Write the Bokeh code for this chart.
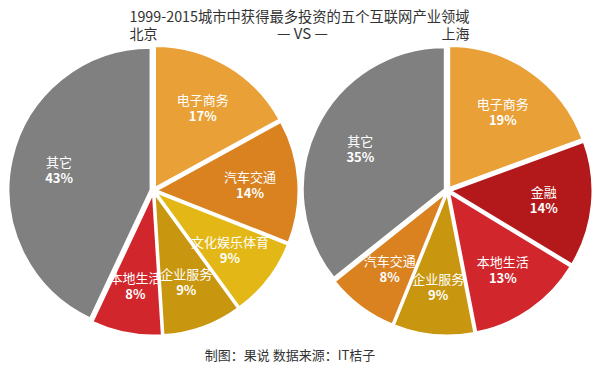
import numpy as np
from bokeh.plotting import figure
from bokeh.models import Range1d, Label, ColumnDataSource
from bokeh.core.properties import value
from bokeh.embed import file_html
from bokeh.resources import INLINE

# ---- data ----
title_text = "1999-2015城市中获得最多投资的五个互联网产业领域"
left_city = "北京"
right_city = "上海"
vs_text = "— VS —"
footer_text = "制图：果说  数据来源：IT桔子"

bj_categories = ["电子商务", "汽车交通", "文化娱乐体育", "企业服务", "本地生活", "其它"]
bj_values = [17, 14, 9, 9, 8, 43]

sh_categories = ["电子商务", "金融", "本地生活", "企业服务", "汽车交通", "其它"]
sh_values = [19, 14, 13, 9, 8, 35]

category_colors = {
    "电子商务": "#E9A036",
    "汽车交通": "#D9821F",
    "文化娱乐体育": "#E3B816",
    "企业服务": "#C9970F",
    "本地生活": "#D2262D",
    "金融": "#B3191B",
    "其它": "#808080",
}

# ---- layout (page pixel coordinates) ----
W, H = 600, 374
FONT = "Noto Sans CJK SC"


def Y(yi):
    return H - yi


p = figure(width=W, height=H, output_backend="svg", toolbar_location=None,
           x_range=Range1d(0, W), y_range=Range1d(0, H),
           x_axis_type=None, y_axis_type=None, min_border=0,
           background_fill_color="white", border_fill_color="white")
p.outline_line_color = None
p.grid.visible = False


def draw_pie(cx, cy_img, cats, vals, R=142, explode=3, label_r=0.66):
    vals = np.array(vals, dtype=float)
    frac = vals / vals.sum()
    cum = np.concatenate([[0], np.cumsum(frac)])
    # clockwise from 12 o'clock
    a_top = np.pi / 2 - cum[:-1] * 2 * np.pi
    a_bot = np.pi / 2 - cum[1:] * 2 * np.pi
    mid = (a_top + a_bot) / 2
    cy = Y(cy_img)
    xs = cx + explode * np.cos(mid)
    ys = cy + explode * np.sin(mid)
    src = ColumnDataSource(dict(
        x=xs, y=ys, start=a_bot, end=a_top,
        color=[category_colors[c] for c in cats],
        name=list(cats),
        pct=[f"{int(v)}%" for v in vals],
        lx=xs + label_r * R * np.cos(mid),
        ly_name=ys + label_r * R * np.sin(mid) + 8,
        ly_pct=ys + label_r * R * np.sin(mid) - 8,
    ))
    p.wedge(x="x", y="y", radius=R, start_angle="start", end_angle="end",
            fill_color="color", line_color="white", line_width=2, source=src)
    p.text(x="lx", y="ly_name", text="name", source=src, text_color="white",
           text_font=value(FONT), text_font_size="13px", text_align="center",
           text_baseline="middle")
    p.text(x="lx", y="ly_pct", text="pct", source=src, text_color="white",
           text_font=value(FONT), text_font_size="13px", text_font_style="bold",
           text_align="center", text_baseline="middle")


draw_pie(153, 190, bj_categories, bj_values)
draw_pie(447, 190, sh_categories, sh_values)

# ---- texts ----
p.add_layout(Label(x=129, y=Y(15), text=title_text, text_font=FONT,
                   text_font_size="14.3px", text_color="#333333",
                   text_align="left", text_baseline="middle"))
p.add_layout(Label(x=129, y=Y(32), text=left_city, text_font=FONT,
                   text_font_size="14px", text_color="#333333",
                   text_align="left", text_baseline="middle"))
p.add_layout(Label(x=302, y=Y(32), text=vs_text, text_font=FONT,
                   text_font_size="15px", text_color="#333333",
                   text_align="center", text_baseline="middle"))
p.add_layout(Label(x=469, y=Y(32), text=right_city, text_font=FONT,
                   text_font_size="14px", text_color="#333333",
                   text_align="right", text_baseline="middle"))
p.add_layout(Label(x=291, y=Y(354), text=footer_text, text_font=FONT,
                   text_font_size="13px", text_color="#333333",
                   text_align="center", text_baseline="middle"))

open("out.html", "w").write(file_html(p, INLINE))
